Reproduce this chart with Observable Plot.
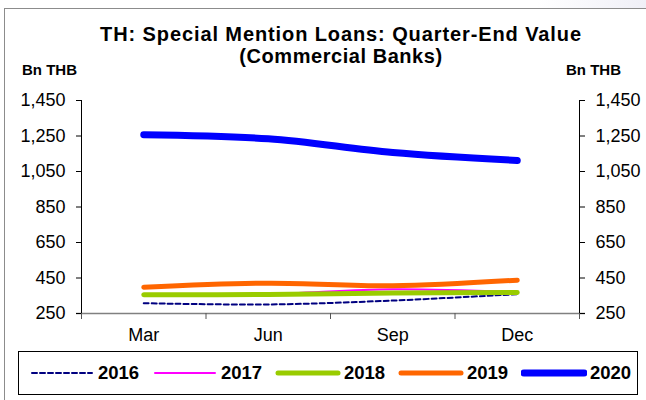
<!DOCTYPE html>
<html>
<head>
<meta charset="utf-8">
<script src="https://cdn.jsdelivr.net/npm/d3@7"></script>
<script src="https://cdn.jsdelivr.net/npm/@observablehq/plot@0.6"></script>
<style>
  html, body { margin: 0; padding: 0; background: #fff; }
  body { width: 646px; height: 400px; overflow: hidden; position: relative;
         font-family: "Liberation Sans", Arial, sans-serif; color: #000;
         background: linear-gradient(100deg, #fff 0%, #fff 75%, #e6e6f2 100%); }
  #frame { position: absolute; left: 4px; top: 8px; width: 660px; height: 410px;
           border-left: 1px solid #8c8c8c; border-top: 1px solid #8c8c8c; background: #fff; }
  #chart { position: absolute; left: 0; top: 0; }
  .t { position: absolute; font-weight: bold; white-space: nowrap; line-height: 1.15; }
  #title1 { left: 16px; width: 650px; text-align: center; top: 23px; font-size: 20px; letter-spacing: 0.9px; }
  #title2 { left: 16px; width: 650px; text-align: center; top: 45px; font-size: 20px; letter-spacing: 0.55px; }
  #unitL { left: 22px; top: 61px; font-size: 15px; }
  #unitR { left: 566px; top: 61px; font-size: 15px; }
  #legend { position: absolute; left: 18px; top: 351px; width: 620px; height: 44px;
            border: 1px solid #000; box-sizing: border-box; background: #fff; }
  .item { position: absolute; top: 0; height: 42px; display: flex; align-items: center; }
  .item svg { display: block; }
  .item span { font-weight: bold; font-size: 18.5px; margin-left: 3px; }
</style>
</head>
<body>
<div id="frame"></div>
<div id="chart"></div>
<div class="t" id="title1">TH: Special Mention Loans: Quarter-End Value</div>
<div class="t" id="title2">(Commercial Banks)</div>
<div class="t" id="unitL">Bn THB</div>
<div class="t" id="unitR">Bn THB</div>
<div id="legend"></div>
<script>
const months = ["Mar", "Jun", "Sep", "Dec"];
const years = ["2016", "2017", "2018", "2019", "2020"];
const v2016 = [308, 301, 323, 359];
const v2017 = [354, 360, 387, 370];
const v2018 = [355, 357, 365, 368];
const v2019 = [398, 421, 406, 438];
const v2020 = [1257, 1234, 1157, 1112];
const yTicks = [250, 450, 650, 850, 1050, 1250, 1450];

const seriesValues = [v2016, v2017, v2018, v2019, v2020];
const colors = ["#000080", "#ff00ff", "#99cc00", "#ff6600", "#0000ff"];
const widths = [2, 2, 5, 5, 7];
const dashes = ["5,3", null, null, null, null];

const data = [];
years.forEach((yr, s) => seriesValues[s].forEach((v, i) => data.push({year: yr, s, idx: i + 0.5, month: months[i], value: v})));

const yMin = d3.min(yTicks), yMax = d3.max(yTicks);
const bounds = d3.range(months.length + 1);
const centers = months.map((m, i) => i + 0.5);
const fmt = d3.format(",");

const lineMarks = years.map((yr, s) =>
  Plot.line(data.filter(d => d.s === s), {
    x: "idx", y: "value", stroke: colors[s], strokeWidth: widths[s],
    strokeDasharray: dashes[s] ?? undefined, curve: "catmull-rom",
    strokeLinecap: "round", strokeLinejoin: "round"
  })
);

const chart = Plot.plot({
  width: 646, height: 400,
  marginTop: 100, marginBottom: 87, marginLeft: 81, marginRight: 67,
  style: {fontFamily: "'Liberation Sans', Arial, sans-serif", color: "#000", background: "transparent", overflow: "visible"},
  x: {type: "linear", domain: [0, months.length]},
  y: {domain: [yMin, yMax]},
  marks: [
    Plot.ruleY([yMin], {stroke: "#808080", strokeWidth: 1.5, insetLeft: -5, insetRight: -6}),
    Plot.ruleX([0, months.length], {y1: yMin, y2: yMax, stroke: "#000", strokeWidth: 1}),
    Plot.axisY({anchor: "left", ticks: yTicks, tickFormat: fmt, tickSize: 5, tickPadding: 11, fontSize: 18, label: null}),
    Plot.axisY({anchor: "right", ticks: yTicks, tickFormat: fmt, tickSize: 5, tickPadding: 11, fontSize: 18, label: null}),
    Plot.axisX({ticks: bounds, tickSize: 6, tickFormat: () => "", label: null, stroke: "#555"}),
    Plot.axisX({ticks: centers, tickSize: 0, tickPadding: 15, tickFormat: d => months[Math.floor(d)], fontSize: 18, label: null}),
    ...lineMarks
  ]
});
document.getElementById("chart").appendChild(chart);

// legend
const legend = document.getElementById("legend");
const itemLefts = [10, 133, 256, 379, 502];
years.forEach((yr, s) => {
  const item = document.createElement("div");
  item.className = "item";
  item.style.left = itemLefts[s] + "px";
  const svg = d3.create("svg").attr("width", 66).attr("height", 12);
  svg.append("line").attr("x1", 3).attr("x2", 63).attr("y1", 6).attr("y2", 6)
    .attr("stroke", colors[s]).attr("stroke-width", widths[s])
    .attr("stroke-linecap", "round")
    .attr("stroke-dasharray", dashes[s]);
  item.appendChild(svg.node());
  const span = document.createElement("span");
  span.textContent = yr;
  item.appendChild(span);
  legend.appendChild(item);
});
</script>
</body>
</html>
